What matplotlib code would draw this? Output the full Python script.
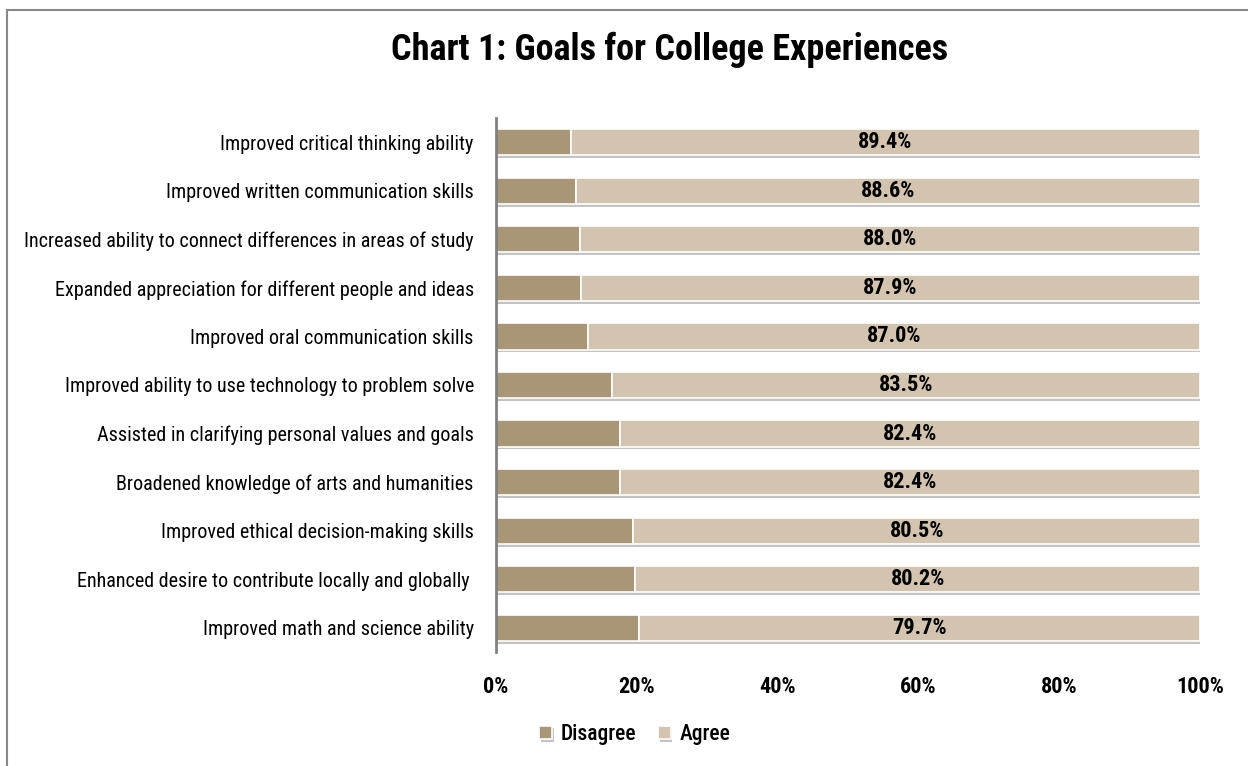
import numpy as np
import matplotlib.pyplot as plt
import matplotlib.patheffects as pe

plt.rcParams['font.family'] = ['Roboto Condensed', 'DejaVu Sans']

categories = ['Improved critical thinking ability',
              'Improved written communication skills',
              'Increased ability to connect differences in areas of study',
              'Expanded appreciation for different people and ideas',
              'Improved oral communication skills',
              'Improved ability to use technology to problem solve',
              'Assisted in clarifying personal values and goals',
              'Broadened knowledge of arts and humanities',
              'Improved ethical decision-making skills',
              'Enhanced desire to contribute locally and globally ',
              'Improved math and science ability']
agree = [89.4, 88.6, 88.0, 87.9, 87.0, 83.5, 82.4, 82.4, 80.5, 80.2, 79.7]
disagree = [100 - a for a in agree]

c_dis = '#a99677'
c_agr = '#d3c4af'

fig = plt.figure(figsize=(12.48, 7.66), dpi=100)
ax = fig.add_axes([496/1248, 1-652/766, 704/1248, (652-118)/766])

y = np.arange(len(categories))[::-1]
shadow = [pe.SimplePatchShadow(offset=(1, -2), shadow_rgbFace='#888888', alpha=0.5), pe.Normal()]
b1 = ax.barh(y, disagree, height=0.54, color=c_dis, edgecolor='white', linewidth=1.2,
             label='Disagree', path_effects=shadow)
b2 = ax.barh(y, agree, left=disagree, height=0.54, color=c_agr, edgecolor='white', linewidth=1.2,
             label='Agree', path_effects=shadow)

for yi, d, a in zip(y, disagree, agree):
    ax.text(d + a/2, yi, f'{a:.1f}%', ha='center', va='center', fontsize=16, fontweight='bold')

ax.set_xlim(0, 100)
ax.set_ylim(-0.5, len(categories) - 0.5)
ax.set_yticks(y)
ax.set_yticklabels(categories, fontsize=14.5)
ax.set_xticks(np.arange(0, 101, 20))
ax.set_xticklabels([f'{v}%' for v in range(0, 101, 20)], fontsize=16, fontweight='bold')
ax.tick_params(length=0, axis='both')
ax.tick_params(axis='x', pad=17)
ax.tick_params(axis='y', pad=16)
for s in ['top', 'right', 'bottom']:
    ax.spines[s].set_visible(False)
ax.spines['left'].set_color('#808080')
ax.spines['left'].set_linewidth(2)

fig.text(670/1248, 1-50/766, 'Chart 1: Goals for College Experiences', ha='center', va='center',
         fontsize=26, fontweight='bold')

fig.legend(handles=[b1, b2], loc='center', bbox_to_anchor=(635/1248, 1-734/766), ncol=2,
           frameon=False, fontsize=15.5, handlelength=0.6, handleheight=0.6, columnspacing=1.0,
           handletextpad=0.4, prop={'size': 15.5, 'weight': 'medium'})

border = plt.Rectangle((7/1248, -0.01), 1.0, 1-10/766 + 0.01, transform=fig.transFigure,
                       fill=False, edgecolor='#888888', linewidth=1.5)
fig.patches.append(border)

plt.savefig('out.png', dpi=100)
